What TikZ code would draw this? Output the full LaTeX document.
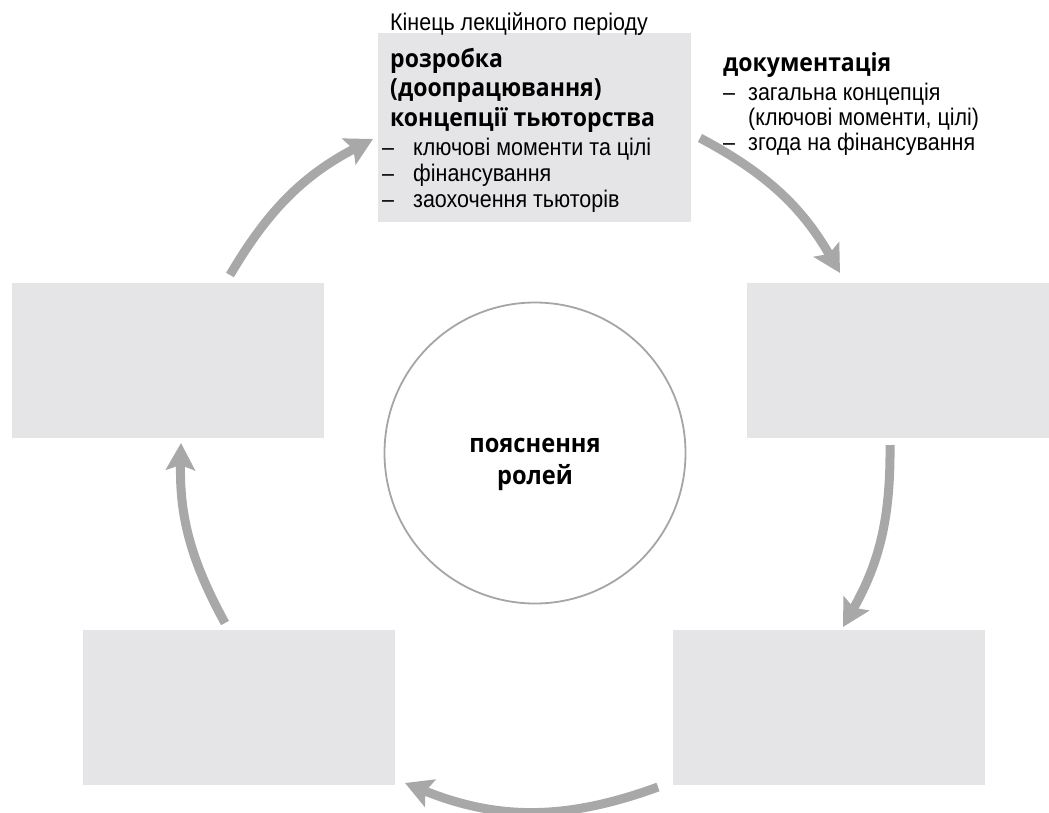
\documentclass[tikz,border=0pt]{standalone}
\usepackage{fontspec}
\setmainfont[FakeStretch=0.895]{Liberation Sans}
\newfontfamily\headfont[FakeStretch=0.92]{Open Sans}
\usetikzlibrary{positioning,arrows.meta}

\definecolor{boxgray}{RGB}{229,229,231}
\definecolor{arrowgray}{RGB}{168,168,168}
\definecolor{ringgray}{RGB}{165,165,165}

\newcommand{\bul}[2][25pt]{\makebox[#1][l]{--}#2}
\newcommand{\cont}[2][25pt]{\hspace*{#1}#2}

\tikzset{
  stagebox/.style={fill=boxgray, minimum width=312pt, minimum height=155pt, inner sep=0pt, anchor=north west},
  flow/.style={arrowgray, line width=9pt, -{Stealth[length=27pt,width=29pt,inset=5pt]}},
  headtext/.style={anchor=north west, inner sep=0pt, align=left, font=\headfont\bfseries\fontsize{25}{29.5}\selectfont},
  listtext/.style={anchor=north west, inner sep=0pt, align=left, font=\fontsize{24}{26}\selectfont}
}

\begin{document}
\begin{tikzpicture}[x=1pt,y=1pt,yscale=-1]
\useasboundingbox (0,0) rectangle (1049,812);

% boxes
\node[stagebox, minimum width=313pt, minimum height=189pt] (concept) at (378,33) {};
\node[stagebox] (leftbox) at (12,283) {};
\node[stagebox, minimum width=302pt] (rightbox) at (747,283) {};
\node[stagebox] (lowleft) at (83,630) {};
\node[stagebox] (lowright) at (673,630) {};

% centre
\node[circle, draw=ringgray, line width=1.8pt, minimum size=301pt, inner sep=0pt] (roles) at (535,453) {};
\node[align=center, inner sep=0pt, font=\headfont\bfseries\fontsize{25.7}{32}\selectfont] (rolestext) at (535,464) {пояснення\\ролей};

% texts
\node[anchor=base west, inner sep=0pt, font=\fontsize{24}{25}\selectfont] (period) at (390,30) {Кінець лекційного періоду};
\node[headtext] (concepthead) at (390,48) {розробка\\(доопрацювання)\\концепції тьюторства};
\node[listtext, below=5pt of concepthead.south west, anchor=north west, xshift=-8pt] (conceptlist)
  {\bul[31pt]{ключові моменти та цілі}\\\bul[31pt]{фінансування}\\\bul[31pt]{заохочення тьюторів}};
\node[headtext] (dochead) at (723,52) {документація};
\node[listtext, below=6pt of dochead.south west, anchor=north west, font=\fontsize{24}{25}\selectfont] (doclist)
  {\bul{загальна концепція}\\\cont{(ключові моменти, цілі)}\\\bul{згода на фінансування}};

% ring of arrows
\coordinate (a1) at (230,275);  \coordinate (b1) at (373,139);
\coordinate (a2) at (700,138);  \coordinate (b2) at (840,273);
\coordinate (a3) at (890,445);  \coordinate (b3) at (843,627);
\coordinate (a4) at (658,787);  \coordinate (b4) at (405,783);
\coordinate (a5) at (225,623);  \coordinate (b5) at (181,443);

\draw[flow] (a1) to[bend right=16] (b1);
\draw[flow] (a2) to[bend right=16] (b2);
\draw[flow] (a3) to[bend right=15] (b3);
\draw[flow] (a4) to[bend right=21] (b4);
\draw[flow] (a5) to[bend right=15] (b5);

\end{tikzpicture}
\end{document}
